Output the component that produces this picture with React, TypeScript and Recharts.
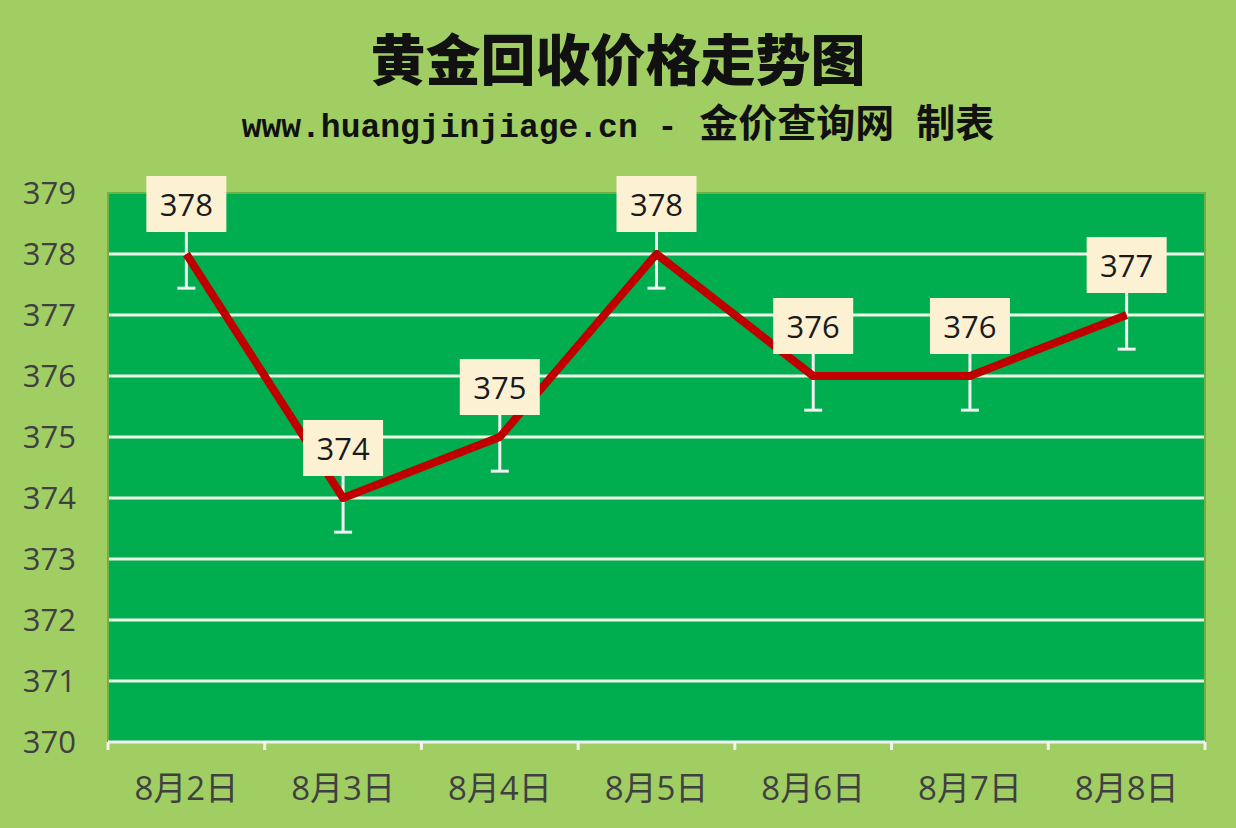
import {
    LineChart,
    Line,
    XAxis,
    YAxis,
    CartesianGrid,
    ErrorBar,
    LabelList,
    ReferenceArea
} from 'recharts';

const dates = ['8月2日', '8月3日', '8月4日', '8月5日', '8月6日', '8月7日', '8月8日'];
const prices = [378, 374, 375, 378, 376, 376, 377];
const errorSizes = [0.56, 0.56, 0.56, 0.56, 0.56, 0.56, 0.56];
const yTicks = [370, 371, 372, 373, 374, 375, 376, 377, 378, 379];
const gridValues = [371, 372, 373, 374, 375, 376, 377, 378];
const dateTicks = [0, 1, 2, 3, 4, 5, 6];
const boundTicks = [-0.5, 0.5, 1.5, 2.5, 3.5, 4.5, 5.5, 6.5];

const data = dates.map((date, i) => ({ x: i, date, price: prices[i], err: errorSizes[i] }));

const textFont = '"Open Sans", "Noto Sans CJK SC", sans-serif';

function PriceLabel(props: any) {
    const { x, y, value } = props;
    return (
        <g>
            <rect x={x - 40} y={y - 78} width={80} height={56} fill="#FDF1D3" />
            <text
                x={x}
                y={y - 50}
                textAnchor="middle"
                dominantBaseline="central"
                fontSize={31}
                fill="#1A1A1A"
                fontFamily={textFont}
            >
                {value}
            </text>
        </g>
    );
}

export default function App() {
    return (
        <div style={{ position: 'absolute', left: 0, top: 0, width: 1236, height: 828, background: '#A0CE63' }}>
            <div
                style={{
                    position: 'absolute', top: 24, left: 0, width: 1236, textAlign: 'center',
                    fontFamily: '"Noto Sans CJK SC"', fontWeight: 900, fontSize: 55, lineHeight: '64px', color: '#111'
                }}
            >
                黄金回收价格走势图
            </div>
            <div
                style={{
                    position: 'absolute', top: 96, left: 0, width: 1236, textAlign: 'center',
                    fontWeight: 700, lineHeight: '48px', color: '#111', whiteSpace: 'pre'
                }}
            >
                <span style={{ fontFamily: '"Liberation Mono", monospace', fontSize: 33 }}>www.huangjinjiage.cn -</span>
                <span style={{ fontFamily: '"Noto Sans CJK SC"', fontSize: 39, marginLeft: 22 }}>金价查询网</span>
                <span style={{ fontFamily: '"Noto Sans CJK SC"', fontSize: 39, marginLeft: 22 }}>制表</span>
            </div>
            <div style={{ position: 'absolute', left: 0, top: 0 }}>
                <LineChart width={1236} height={828} data={data} margin={{ top: 193, right: 31, left: 8, bottom: 16 }}>
                    <CartesianGrid
                        xAxisId="main"
                        vertical={false}
                        horizontalValues={gridValues}
                        stroke="#EEF6E8"
                        strokeWidth={3}
                        fill="#00AE4F"
                    />
                    <ReferenceArea
                        xAxisId="main"
                        x1={-0.5}
                        x2={6.5}
                        y1={370}
                        y2={379}
                        fill="none"
                        stroke="#6DB244"
                        strokeWidth={2}
                    />
                    <XAxis
                        xAxisId="bounds"
                        type="number"
                        dataKey="x"
                        domain={[-0.5, 6.5]}
                        ticks={boundTicks}
                        tickFormatter={() => ''}
                        allowDataOverflow
                        tickSize={8}
                        tickLine={{ stroke: '#F2F2F2', strokeWidth: 3 }}
                        axisLine={{ stroke: '#F2F2F2', strokeWidth: 3 }}
                        height={10}
                    />
                    <XAxis
                        xAxisId="main"
                        type="number"
                        dataKey="x"
                        domain={[-0.5, 6.5]}
                        ticks={dateTicks}
                        tickFormatter={(i: number) => dates[i]}
                        allowDataOverflow
                        axisLine={false}
                        tickLine={false}
                        tickMargin={19}
                        tick={{ fontSize: 33, fill: '#404040', fontFamily: textFont }}
                        height={60}
                    />
                    <YAxis
                        domain={[370, 379]}
                        ticks={yTicks}
                        allowDataOverflow
                        axisLine={false}
                        tickLine={false}
                        tickSize={0}
                        tickMargin={32}
                        width={100}
                        tick={{ fontSize: 31, fill: '#404040', fontFamily: textFont }}
                    />
                    <Line
                        xAxisId="main"
                        type="linear"
                        dataKey="price"
                        stroke="#C00000"
                        strokeWidth={8}
                        strokeLinejoin="round"
                        dot={false}
                        isAnimationActive={false}
                    >
                        <ErrorBar dataKey="err" direction="y" width={9} stroke="#F2F2F2" strokeWidth={3} />
                        <LabelList dataKey="price" content={PriceLabel} />
                    </Line>
                </LineChart>
            </div>
        </div>
    );
}
